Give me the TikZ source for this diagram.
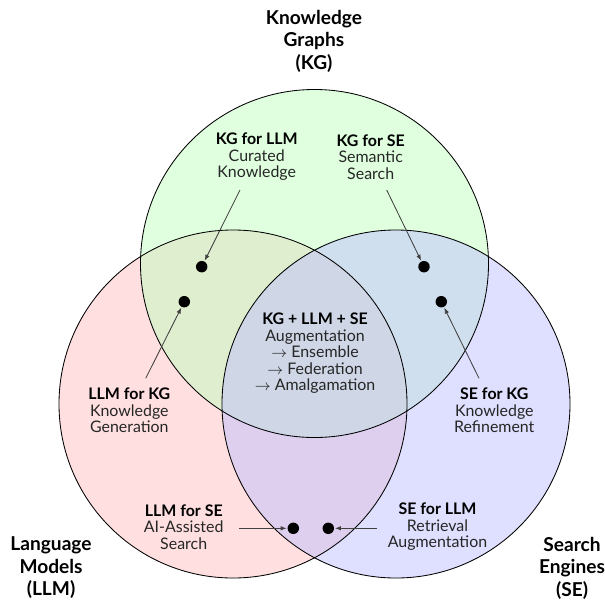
\documentclass[tikz,border=0pt]{standalone}
\usepackage{fontspec}
\setmainfont{Lato}
\usetikzlibrary{arrows.meta}
\begin{document}
\begin{tikzpicture}[x=0.5333pt,y=-0.5333pt,
  titletext/.style={align=center,inner sep=0pt,font=\fontsize{10.2}{12}\selectfont\bfseries},
  innertext/.style={align=center,inner sep=0pt,text=black!85,font=\fontsize{8.5}{8.8}\selectfont},
  dot/.style={circle,fill=black,inner sep=0pt,minimum size=6.1pt},
  pointer/.style={draw=black!75,line width=0.45pt,-{Latex[length=3.2pt,width=2.4pt]},shorten >=0.3pt},
  ring/.style={draw=black,line width=0.45pt}]
\useasboundingbox (0,0) rectangle (605,605);
% circle centres
\coordinate (ckg) at (314.5,263.5);
\coordinate (cllm) at (233,404);
\coordinate (cse) at (396,404);
% fills (order: red, green, blue)
\fill[red!25,fill opacity=0.5] (cllm) circle[radius=92.8pt];
\fill[green!25,fill opacity=0.5] (ckg) circle[radius=92.8pt];
\fill[blue!25,fill opacity=0.5] (cse) circle[radius=92.8pt];
\draw[ring] (cllm) circle[radius=92.8pt];
\draw[ring] (ckg) circle[radius=92.8pt];
\draw[ring] (cse) circle[radius=92.8pt];
% titles
\node[titletext] (tkg) at (314,41) {Knowledge\\Graphs\\(KG)};
\node[titletext] (tllm) at (51,568) {Language\\Models\\(LLM)};
\node[titletext] (tse) at (572,568) {Search\\Engines\\(SE)};
% inner labels
\node[innertext] (kg4llm) at (256.7,157) {\textbf{\color{black}KG for LLM}\\Curated\\Knowledge};
\node[innertext] (kg4se) at (370.7,157) {\textbf{\color{black}KG for SE}\\Semantic\\Search};
\node[innertext] (llm4kg) at (129.3,410.5) {\textbf{\color{black}LLM for KG}\\Knowledge\\Generation};
\node[innertext] (se4kg) at (494.3,410.5) {\textbf{\color{black}SE for KG}\\Knowledge\\Refinement};
\node[innertext] (all) at (315,353.5) {\textbf{\color{black}KG + LLM + SE}\\Augmentation\\$\rightarrow$ Ensemble\\$\rightarrow$ Federation\\$\rightarrow$ Amalgamation};
\node[innertext] (llm4se) at (183.7,526.7) {\textbf{\color{black}LLM for SE}\\AI-Assisted\\Search};
\node[innertext] (se4llm) at (437.5,526.7) {\textbf{\color{black}SE for LLM}\\Retrieval\\Augmentation};
% dots
\node[dot] (d1) at (201.7,266.7) {};
\node[dot] (d2) at (184.3,301.7) {};
\node[dot] (d3) at (424,266.7) {};
\node[dot] (d4) at (441.3,301.7) {};
\node[dot] (d5) at (293.3,528.3) {};
\node[dot] (d6) at (328.3,528.3) {};
% arrow tails
\coordinate (a1) at (240,190);
\coordinate (a2) at (145.7,378.3);
\coordinate (a3) at (386.7,190);
\coordinate (a4) at (479,378.3);
\coordinate (a5) at (239,528.3);
\coordinate (a6) at (376.7,528.3);
\draw[pointer] (a1) -- (d1);
\draw[pointer] (a2) -- (d2);
\draw[pointer] (a3) -- (d3);
\draw[pointer] (a4) -- (d4);
\draw[pointer] (a5) -- (d5);
\draw[pointer] (a6) -- (d6);
\end{tikzpicture}
\end{document}
